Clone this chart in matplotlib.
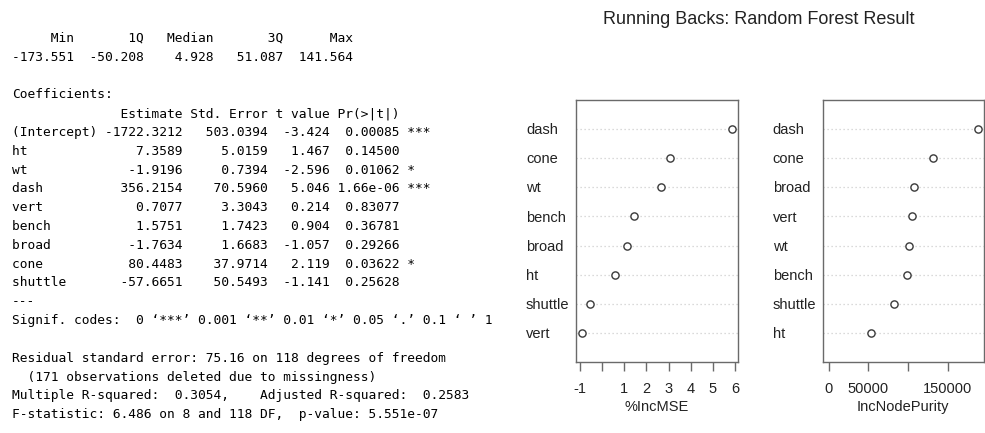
import matplotlib
matplotlib.use("Agg")
import matplotlib.pyplot as plt
import matplotlib.transforms as mtransforms

W, H = 985, 433

# ---------------- data ----------------
resid_names = ["Min", "1Q", "Median", "3Q", "Max"]
resid_values = ["-173.551", "-50.208", "4.928", "51.087", "141.564"]

coef_names = ["(Intercept)", "ht", "wt", "dash", "vert", "bench", "broad", "cone", "shuttle"]
coef_estimate = ["-1722.3212", "7.3589", "-1.9196", "356.2154", "0.7077", "1.5751", "-1.7634", "80.4483", "-57.6651"]
coef_stderr = ["503.0394", "5.0159", "0.7394", "70.5960", "3.3043", "1.7423", "1.6683", "37.9714", "50.5493"]
coef_tvalue = ["-3.424", "1.467", "-2.596", "5.046", "0.214", "0.904", "-1.057", "2.119", "-1.141"]
coef_pvalue = ["0.00085", "0.14500", "0.01062", "1.66e-06", "0.83077", "0.36781", "0.29266", "0.03622", "0.25628"]
coef_signif = ["***", "", "*", "***", "", "", "", "*", ""]

footer_lines = [
    "---",
    "Signif. codes:  0 \u2018***\u2019 0.001 \u2018**\u2019 0.01 \u2018*\u2019 0.05 \u2018.\u2019 0.1 \u2018 \u2019 1",
    "",
    "Residual standard error: 75.16 on 118 degrees of freedom",
    "  (171 observations deleted due to missingness)",
    "Multiple R-squared:  0.3054,    Adjusted R-squared:  0.2583 ",
    "F-statistic: 6.486 on 8 and 118 DF,  p-value: 5.551e-07",
]

mse_vars = ["dash", "cone", "wt", "bench", "broad", "ht", "shuttle", "vert"]
mse_vals = [5.86, 3.04, 2.65, 1.43, 1.14, 0.57, -0.55, -0.91]
mse_ticks = [-1, 0, 1, 2, 3, 4, 5, 6]
mse_ticklabels = ["-1", "", "1", "2", "3", "4", "5", "6"]

np_vars = ["dash", "cone", "broad", "vert", "wt", "bench", "shuttle", "ht"]
np_vals = [188000, 131000, 107800, 104500, 100700, 99000, 81900, 53700]
np_ticks = [0, 50000, 100000, 150000]
np_ticklabels = ["0", "50000", "", "150000"]

title = "Running Backs: Random Forest Result"

# ---------------- figure ----------------
fig = plt.figure(figsize=(W / 100, H / 100), dpi=100)
fig.patch.set_facecolor("white")

# ---- left: R console text ----
lines = []
lines.append(" ".join(f"{n:>8}" for n in resid_names) + " ")
lines.append(" ".join(f"{v:>8}" for v in resid_values) + " ")
lines.append("")
lines.append("Coefficients:")
lines.append(f"{'':11} {'Estimate':>10} {'Std. Error':>10} {'t value':>7} {'Pr(>|t|)':>8}    ")
for n, e, s, t, p, g in zip(coef_names, coef_estimate, coef_stderr, coef_tvalue, coef_pvalue, coef_signif):
    lines.append(f"{n:<11} {e:>10} {s:>10} {t:>7} {p:>8} {g}")
lines.extend(footer_lines)

mono = "DejaVu Sans Mono"
base0 = 41.7
step = 18.83
for i, line in enumerate(lines):
    if not line:
        continue
    y = base0 + i * step
    fig.text(12 / W, 1 - y / H, line, family=mono, fontsize=9.3,
             color="#000000", ha="left", va="baseline")

# ---- right: dot charts ----
sans = ["Liberation Sans", "DejaVu Sans"]
edge = "#6a6a6a"


def dotchart(left_px, right_px, names, vals, xlo, ticks, ticklabels, xlabel):
    top_px, bot_px = 100, 362
    ax = fig.add_axes([left_px / W, 1 - bot_px / H,
                       (right_px - left_px) / W, (bot_px - top_px) / H])
    n = len(vals)
    pos = [n - i for i in range(n)]
    lo = xlo if xlo is not None else min(vals)
    hi = max(vals)
    r = hi - lo
    ax.set_xlim(lo - 0.04 * r, hi + 0.04 * r)
    ax.set_ylim(0, n + 1)
    ax.hlines(pos, 0, 1, transform=ax.get_yaxis_transform(),
              colors="#cfcfcf", linestyles=(0, (1, 2.2)), linewidth=0.9, zorder=1)
    ax.plot(vals, pos, "o", mfc="white", mec="#3a3a3a", mew=1.0, ms=5.2,
            linestyle="none", zorder=3, clip_on=False)
    ax.set_yticks([])
    ax.set_xticks(ticks)
    ax.set_xticklabels(ticklabels, family=sans, fontsize=10.5, color="#222222")
    ax.tick_params(axis="x", direction="out", length=6.5, width=1.0,
                   color=edge, pad=8)
    for s in ax.spines.values():
        s.set_color(edge)
        s.set_linewidth(1.0)
    ax.set_xlabel(xlabel, family=sans, fontsize=10.5, color="#222222", labelpad=3)
    tr = mtransforms.blended_transform_factory(fig.transFigure, ax.transData)
    for nm, p in zip(names, pos):
        fig.text((left_px - 50) / W, p - 0.04, nm, transform=tr, family=sans,
                 fontsize=10.5, color="#222222", ha="left", va="center")
    return ax


dotchart(576, 738, mse_vars, mse_vals, None, mse_ticks, mse_ticklabels, "%IncMSE")
dotchart(822.7, 984, np_vars, np_vals, 0, np_ticks, np_ticklabels, "IncNodePurity")

fig.text(759 / W, 1 - 20 / H, title, family=sans, fontsize=13,
         color="#222222", ha="center", va="center")

fig.savefig("out.png", dpi=100)
